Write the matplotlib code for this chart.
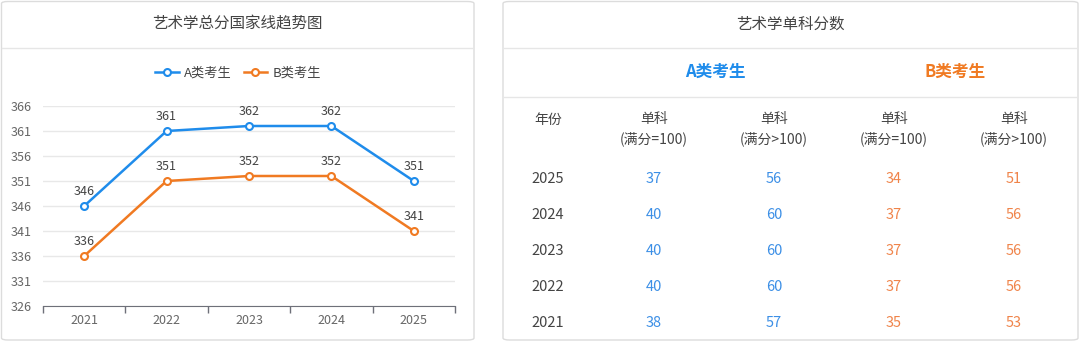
import matplotlib.pyplot as plt
from matplotlib.patches import FancyBboxPatch
from matplotlib.lines import Line2D

plt.rcParams['font.family'] = ['Noto Sans CJK SC', 'DejaVu Sans']

# data
years = ['2021', '2022', '2023', '2024', '2025']
score_a = [346, 361, 362, 362, 351]
score_b = [336, 351, 352, 352, 341]
y_ticks = [326, 331, 336, 341, 346, 351, 356, 361, 366]

table_years = ['2025', '2024', '2023', '2022', '2021']
a_eq100 = [37, 40, 40, 40, 38]
a_gt100 = [56, 60, 60, 60, 57]
b_eq100 = [34, 37, 37, 37, 35]
b_gt100 = [51, 56, 56, 56, 53]
col_heads = ['(满分=100)', '(满分>100)', '(满分=100)', '(满分>100)']

BLUE = '#1f8ceb'
ORANGE = '#f07a22'
TBLUE = '#3c8fe6'
TORANGE = '#f0844a'
TEXT = '#444444'
W, H = 1080, 343

fig = plt.figure(figsize=(W / 100, H / 100), dpi=100)


def fx(x):
    return x / W


def fy(y):
    return 1 - y / H


def panel(x0, x1, y0, y1):
    p = FancyBboxPatch((fx(x0), fy(y1)), fx(x1 - x0), (y1 - y0) / H,
                       boxstyle='round,pad=0,rounding_size=0.006',
                       transform=fig.transFigure, facecolor='white',
                       edgecolor='#dcdcdc', linewidth=1.0, zorder=-5)
    fig.patches.append(p)


def hline(x0, x1, y, c='#e6e6e6'):
    fig.add_artist(Line2D([fx(x0), fx(x1)], [fy(y), fy(y)], color=c,
                          linewidth=1.0, transform=fig.transFigure, zorder=-4))


# left panel
panel(1.5, 474, 1.5, 340)
hline(2, 473, 48)
fig.text(fx(237), fy(24), '艺术学总分国家线趋势图', ha='center', va='center',
         fontsize=11.2, color=TEXT)

ax = fig.add_axes([fx(43), fy(306), fx(455 - 43), 200 / H])
ax.set_zorder(5)
ax.patch.set_alpha(0)
xs = list(range(len(years)))
ax.plot(xs, score_a, color=BLUE, lw=1.8, marker='o', ms=5, mfc='white',
        mew=1.5, label='A类考生', zorder=3)
ax.plot(xs, score_b, color=ORANGE, lw=1.8, marker='o', ms=5, mfc='white',
        mew=1.5, label='B类考生', zorder=3)
for x, a, b in zip(xs, score_a, score_b):
    ax.annotate(str(a), (x, a), xytext=(0, 6), textcoords='offset points',
                ha='center', va='bottom', fontsize=9, color=TEXT)
    ax.annotate(str(b), (x, b), xytext=(0, 6), textcoords='offset points',
                ha='center', va='bottom', fontsize=9, color=TEXT)

ax.set_xlim(-0.5, 4.5)
ax.set_ylim(326, 366)
ax.set_yticks(y_ticks)
ax.tick_params(axis='y', length=0, pad=8, labelsize=9, labelcolor='#666666')
ax.set_xticks([i - 0.5 for i in range(len(years) + 1)])
ax.set_xticklabels([])
ax.set_xticks(xs, minor=True)
ax.set_xticklabels(years, minor=True)
ax.tick_params(axis='x', which='major', length=5, color='#6e7079', width=1)
ax.tick_params(axis='x', which='minor', length=0, pad=6, labelsize=9,
               labelcolor='#666666')
ax.grid(axis='y', color='#e8e8e8', lw=1)
for s in ['left', 'right', 'top']:
    ax.spines[s].set_visible(False)
ax.spines['bottom'].set_color('#6e7079')
ax.set_axisbelow(True)
ax.legend(loc='center', bbox_to_anchor=(fx(238), fy(73)),
          bbox_transform=fig.transFigure, ncol=2, frameon=False, fontsize=9.5,
          handlelength=1.8, handletextpad=0.4, columnspacing=0.9,
          labelcolor=TEXT)

# right panel
panel(503, 1078, 1.5, 340)
hline(504, 1077, 48)
hline(504, 1077, 97)
fig.text(fx(790), fy(24), '艺术学单科分数', ha='center', va='center',
         fontsize=11.2, color=TEXT)
fig.text(fx(715), fy(72), 'A类考生', ha='center', va='center', fontsize=12,
         fontweight='bold', color=BLUE)
fig.text(fx(955), fy(72), 'B类考生', ha='center', va='center', fontsize=12,
         fontweight='bold', color=ORANGE)

col_x = [654, 774, 894, 1014]
fig.text(fx(548), fy(120), '年份', ha='center', va='center', fontsize=10,
         color=TEXT)
for cx, h in zip(col_x, col_heads):
    fig.text(fx(cx), fy(119), '单科', ha='center', va='center', fontsize=10,
             color=TEXT)
    fig.text(fx(cx), fy(139), h, ha='center', va='center', fontsize=10,
             color=TEXT)

row_y = [179, 215, 251, 287, 323]
for ry, yr, a1, a2, b1, b2 in zip(row_y, table_years, a_eq100, a_gt100,
                                  b_eq100, b_gt100):
    fig.text(fx(548), fy(ry), yr, ha='center', va='center', fontsize=10.5,
             color=TEXT)
    for cx, v, c in zip(col_x, [a1, a2, b1, b2],
                        [TBLUE, TBLUE, TORANGE, TORANGE]):
        fig.text(fx(cx), fy(ry), str(v), ha='center', va='center',
                 fontsize=10.5, color=c)

fig.savefig('out.png', dpi=100)
